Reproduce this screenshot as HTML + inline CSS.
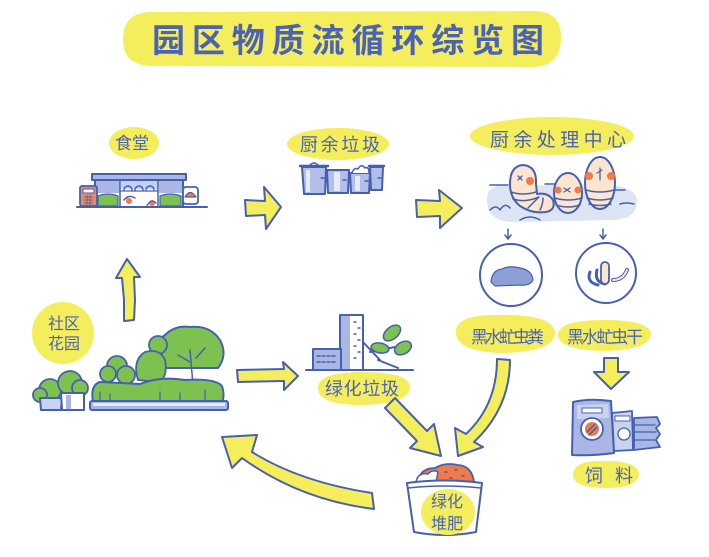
<!DOCTYPE html>
<html>
<head>
<meta charset="utf-8">
<style>
  html,body{margin:0;padding:0;background:#fff;}
  svg{display:block;}
  text{font-family:"Liberation Sans","Noto Sans CJK SC",sans-serif;fill:#4a63b5;}
</style>
</head>
<body>
<svg width="709" height="557" viewBox="0 0 709 557" xmlns="http://www.w3.org/2000/svg">
  <g stroke-linejoin="round" stroke-linecap="round">

  <!-- Title -->
  <path d="M150 12 L535 11 Q562 12 561 38 Q561 66 533 67 L150 66 Q123 65 123 39 Q123 13 150 12 Z" fill="#f5ee5c"/>
  <text x="152" y="52" font-size="33" font-weight="bold" textLength="392" lengthAdjust="spacing">园区物质流循环综览图</text>

  <!-- 食堂 label -->
  <ellipse cx="134" cy="143" rx="25" ry="16" fill="#f5ee5c"/>
  <text x="132" y="149" font-size="17" text-anchor="middle">食堂</text>

  <!-- Canteen -->
  <rect x="92" y="174" width="94" height="6" fill="#aab6e4" stroke="#4660b0" stroke-width="2"/>
  <rect x="95" y="180" width="88" height="27" fill="#fff" stroke="#4660b0" stroke-width="2"/>
  <rect x="96" y="181" width="24" height="12" fill="#aab6e4"/>
  <rect x="159" y="181" width="23" height="12" fill="#aab6e4"/>
  <rect x="121" y="181" width="37" height="8" fill="#c5cff0"/>
  <path d="M98 206 L98 196 Q108 192 118 196 L118 206 Z" fill="#7dc150" stroke="#4660b0" stroke-width="1.2"/>
  <path d="M160 206 L160 196 Q170 192 181 196 L181 206 Z" fill="#7dc150" stroke="#4660b0" stroke-width="1.2"/>
  <line x1="120" y1="180" x2="120" y2="207" stroke="#4660b0" stroke-width="1.5"/>
  <line x1="158" y1="180" x2="158" y2="207" stroke="#4660b0" stroke-width="1.5"/>
  <path d="M124 190 a4 4 0 0 1 8 0 M135 190 a4 4 0 0 1 8 0 M146 190 a4 4 0 0 1 8 0" fill="none" stroke="#4660b0" stroke-width="1.5"/>
  <line x1="121" y1="191" x2="157" y2="191" stroke="#4660b0" stroke-width="1.2"/>
  <path d="M124 200 q5 -6 11 -2" fill="none" stroke="#4660b0" stroke-width="1.5"/>
  <circle cx="129" cy="201" r="3" fill="#f07a4a"/>
  <circle cx="152" cy="203" r="3" fill="#f07a4a"/>
  <path d="M147 206 q4 -8 9 -3" fill="none" stroke="#4660b0" stroke-width="1.3"/>
  <rect x="80" y="186" width="17" height="20" rx="2" fill="#f08a5a" stroke="#4660b0" stroke-width="1.8"/>
  <rect x="83" y="189" width="11" height="4" fill="#fff" stroke="#4660b0" stroke-width="1"/>
  <path d="M84 197h9M84 200h9M84 203h9M87 195v10M90 195v10" stroke="#4660b0" stroke-width="0.8"/>
  <rect x="183" y="187" width="15" height="17" rx="3" fill="#fff" stroke="#4660b0" stroke-width="1.8"/>
  <path d="M185 197 q5 -9 11 0 Z" fill="#f07a4a" stroke="#4660b0" stroke-width="1.2"/>
  <line x1="77" y1="207" x2="207" y2="207" stroke="#4660b0" stroke-width="2"/>

  <!-- Arrow 1 -->
  <path d="M245 200 L265 201 L264 187 L281 207 L266 229 L265 215 L246 216 Z" fill="#f5ee5c" stroke="#4660b0" stroke-width="2"/>

  <!-- 厨余垃圾 -->
  <ellipse cx="338" cy="144" rx="51" ry="16" fill="#f5ee5c"/>
  <text x="300" y="151" font-size="18" textLength="80" lengthAdjust="spacing">厨余垃圾</text>

  <!-- Bins -->
  <path d="M302 167 L326 167 L325 194 L304 194 Z" fill="#b3bfea" stroke="#4660b0" stroke-width="2"/>
  <path d="M300 166 L328 166" stroke="#4660b0" stroke-width="2.5"/>
  <path d="M310 165 q4 -4 8 0" fill="none" stroke="#4660b0" stroke-width="1.5"/>
  <rect x="306" y="170" width="4" height="22" fill="#e6ebfa"/>
  <path d="M327 170 L349 170 L348 193 L328 193 Z" fill="#b3bfea" stroke="#4660b0" stroke-width="2"/>
  <rect x="334" y="172" width="6" height="19" fill="#e6ebfa"/>
  <path d="M350 173 L370 173 L369 193 L351 193 Z" fill="#b3bfea" stroke="#4660b0" stroke-width="2"/>
  <path d="M352 173 q2 -6 6 -4 q3 -6 7 -1 q4 -2 4 5" fill="#fff" stroke="#4660b0" stroke-width="1.5"/>
  <rect x="355" y="176" width="5" height="15" fill="#e6ebfa"/>
  <path d="M370 167 L383 167 L382 190 L371 190 Z" fill="#b3bfea" stroke="#4660b0" stroke-width="2"/>
  <path d="M369 166 L384 166" stroke="#4660b0" stroke-width="2.5"/>
  <path d="M321 178h3M343 180h3M365 181h3M378 178h3" stroke="#4660b0" stroke-width="1.5"/>

  <!-- Arrow 2 -->
  <path d="M416 200 L440 201 L439 190 L462 208 L440 228 L440 216 L417 217 Z" fill="#f5ee5c" stroke="#4660b0" stroke-width="2"/>

  <!-- 厨余处理中心 -->
  <ellipse cx="552" cy="136" rx="82" ry="19" fill="#f5ee5c"/>
  <text x="490" y="146" font-size="19" textLength="136" lengthAdjust="spacing">厨余处理中心</text>

  <!-- Worm area -->
  <path d="M487 196 Q490 183 510 186 L600 184 Q635 185 637 200 Q638 218 615 220 L510 222 Q485 220 487 196 Z" fill="#dde5f5"/>
  <path d="M490 210 q6 -6 10 0 q5 -8 10 -2 M620 204 q6 -2 14 0 M520 220 q10 -6 20 0 M490 185 h18 M545 184 h18 M605 190 h20" fill="none" stroke="#4660b0" stroke-width="1.5"/>
  <path d="M510 184 Q510 166 523 165 Q537 166 536 184 L537 194 Q548 192 553 200 Q556 210 546 212 Q532 214 520 206 Q510 198 510 184 Z" fill="#fde6cf" stroke="#4660b0" stroke-width="2"/>
  <path d="M511 192 q12 4 25 0 M513 199 q12 4 26 -2 M528 208 q6 -6 10 -10 M540 210 q3 -6 3 -12" fill="none" stroke="#4660b0" stroke-width="1.5"/>
  <circle cx="530" cy="181" r="4" fill="#f07a4a"/>
  <path d="M518 176 l4 4 m0 -4 l-4 4" stroke="#4660b0" stroke-width="1.3"/>
  <ellipse cx="568" cy="193" rx="14" ry="20" fill="#fde6cf" stroke="#4660b0" stroke-width="2"/>
  <path d="M555 198 q13 4 27 0 M556 205 q12 4 24 0" fill="none" stroke="#4660b0" stroke-width="1.5"/>
  <circle cx="558" cy="190" r="3.5" fill="#f07a4a"/>
  <circle cx="578" cy="190" r="3.5" fill="#f07a4a"/>
  <path d="M564 188 l6 4 m0 -4 l-6 4" stroke="#4660b0" stroke-width="1.3"/>
  <ellipse cx="600" cy="183" rx="15" ry="26" fill="#fde6cf" stroke="#4660b0" stroke-width="2"/>
  <path d="M586 190 q14 4 28 0 M587 198 q13 4 26 0 M589 204 q11 3 22 0" fill="none" stroke="#4660b0" stroke-width="1.5"/>
  <circle cx="589" cy="176" r="4" fill="#f07a4a"/>
  <circle cx="611" cy="176" r="4" fill="#f07a4a"/>
  <path d="M600 168 v12 m-3 -7 l5 -3" stroke="#4660b0" stroke-width="1.3" fill="none"/>

  <!-- small arrows -->
  <path d="M508 229 v9 M505 235 l3 4 l3 -4" fill="none" stroke="#4660b0" stroke-width="1.5"/>
  <path d="M603 229 v9 M600 235 l3 4 l3 -4" fill="none" stroke="#4660b0" stroke-width="1.5"/>

  <!-- circles -->
  <circle cx="511" cy="275" r="31" fill="#fff" stroke="#4660b0" stroke-width="2"/>
  <path d="M491 282 Q492 270 502 269 Q510 265 520 268 Q532 270 533 280 Q530 286 520 285 L495 286 Z" fill="#8e9fd8" stroke="#4660b0" stroke-width="1.2"/>
  <circle cx="606" cy="273" r="30" fill="#fff" stroke="#4660b0" stroke-width="2"/>
  <path d="M590 272 q-4 10 8 13 M597 270 q-3 12 8 14" fill="none" stroke="#4660b0" stroke-width="3"/>
  <rect x="601" y="262" width="8" height="22" rx="4" fill="#fde6cf" stroke="#4660b0" stroke-width="1.8"/>
  <path d="M613 280 q10 0 14 -10" fill="none" stroke="#4660b0" stroke-width="4"/>
  <path d="M613 280 q10 0 14 -10" fill="none" stroke="#fde6cf" stroke-width="2"/>

  <!-- 黑水虻虫粪 / 虫干 labels -->
  <path d="M456 330 Q458 314 500 315 Q552 314 555 332 Q556 352 502 353 Q454 352 456 330 Z" fill="#f5ee5c"/>
  <text x="471" y="343" font-size="17" textLength="73" lengthAdjust="spacing">黑水虻虫粪</text>
  <path d="M558 334 Q560 320 604 320 Q650 320 651 334 Q650 350 604 351 Q557 350 558 334 Z" fill="#f5ee5c"/>
  <text x="567" y="343" font-size="17" textLength="76" lengthAdjust="spacing">黑水虻虫干</text>

  <!-- Arrow down to feed -->
  <path d="M604 358 L618 358 L618 372 L629 372 L611 389 L594 372 L604 372 Z" fill="#f5ee5c" stroke="#4660b0" stroke-width="2"/>

  <!-- Feed bags -->
  <path d="M634 418 L657 417 L660 424 L656 428 L660 434 L656 440 L660 447 L634 450 Z" fill="#aab6e4" stroke="#4660b0" stroke-width="1.8"/>
  <path d="M635 425 h20 M635 432 h21 M635 440 h20" stroke="#4660b0" stroke-width="1.3"/>
  <path d="M612 413 L632 411 L633 450 L614 451 Z" fill="#c9d3f0" stroke="#4660b0" stroke-width="1.8"/>
  <rect x="615" y="416" width="15" height="5" fill="#fff" stroke="#4660b0" stroke-width="1"/>
  <circle cx="624" cy="434" r="6" fill="#fff" stroke="#4660b0" stroke-width="1.3"/>
  <path d="M573 402 Q590 398 611 401 L614 453 Q592 456 572 455 Z" fill="#aab6e4" stroke="#4660b0" stroke-width="2"/>
  <path d="M577 405 L608 404 L609 418 L577 419 Z" fill="#c9d3f0"/>
  <rect x="582" y="408" width="20" height="5" fill="#fff" stroke="#4660b0" stroke-width="1"/>
  <circle cx="592" cy="429" r="11" fill="#fff" stroke="#4660b0" stroke-width="1.8"/>
  <circle cx="592" cy="429" r="7" fill="#f07a4a"/>
  <path d="M587 432 l8 -8 M589 435 l8 -8" stroke="#4660b0" stroke-width="1.5"/>

  <!-- 饲料 -->
  <path d="M573 474 Q574 460 606 461 Q638 461 639 474 Q638 488 606 488 Q572 488 573 474 Z" fill="#f5ee5c"/>
  <text x="585" y="482" font-size="18" textLength="48" lengthAdjust="spacing">饲料</text>

  <!-- Garden label -->
  <circle cx="63" cy="333" r="31" fill="#f5ee5c"/>
  <text x="64" y="329" font-size="16" text-anchor="middle">社区</text>
  <text x="64" y="349" font-size="16" text-anchor="middle">花园</text>

  <!-- Up arrow -->
  <path d="M127 259 L140 277 L134 277 L135 300 L134 320 L124 321 L124 300 L122 278 L116 278 Z" fill="#f5ee5c" stroke="#4660b0" stroke-width="2"/>

  <!-- Garden -->
  <path d="M157 368 Q150 345 165 335 Q175 325 190 327 Q210 325 220 340 Q228 355 218 368 Z" fill="#7dc150" stroke="#4660b0" stroke-width="2"/>
  <path d="M190 350 L193 385 M178 355 L190 362 M205 348 L196 358" stroke="#4660b0" stroke-width="1.5" fill="none"/>
  <circle cx="158" cy="345" r="9" fill="#7dc150" stroke="#4660b0" stroke-width="1.8"/>
  <path d="M138 380 Q132 360 145 352 Q160 348 165 360 Q168 375 160 382 Z" fill="#7dc150" stroke="#4660b0" stroke-width="1.8"/>
  <circle cx="117" cy="366" r="10" fill="#7dc150" stroke="#4660b0" stroke-width="1.8"/>
  <circle cx="108" cy="374" r="8" fill="#7dc150" stroke="#4660b0" stroke-width="1.8"/>
  <circle cx="126" cy="375" r="9" fill="#7dc150" stroke="#4660b0" stroke-width="1.8"/>
  <path d="M93 402 Q90 385 100 382 L140 384 Q160 376 185 380 Q215 378 222 386 Q225 396 222 402 Z" fill="#7dc150" stroke="#4660b0" stroke-width="2"/>
  <path d="M100 392 v8 M110 394 v6 M160 392 v8 M180 393 v7 M205 390 v10" stroke="#4660b0" stroke-width="1.2"/>
  <rect x="90" y="401" width="138" height="9" rx="2" fill="#aab6e4" stroke="#4660b0" stroke-width="2"/>
  <rect x="93" y="403" width="132" height="3" fill="#e6ebfa"/>
  <!-- pots -->
  <circle cx="50" cy="390" r="11" fill="#7dc150" stroke="#4660b0" stroke-width="1.8"/>
  <circle cx="40" cy="395" r="7" fill="#7dc150" stroke="#4660b0" stroke-width="1.8"/>
  <circle cx="70" cy="383" r="12" fill="#7dc150" stroke="#4660b0" stroke-width="1.8"/>
  <circle cx="80" cy="388" r="8" fill="#7dc150" stroke="#4660b0" stroke-width="1.8"/>
  <path d="M40 398 L62 398 L61 410 L41 410 Z" fill="#c9d3f0" stroke="#4660b0" stroke-width="2"/>
  <path d="M61 393 L84 393 L84 410 L62 410 Z" fill="#fff" stroke="#4660b0" stroke-width="2"/>
  <rect x="66" y="395" width="5" height="14" fill="#aab6e4"/>

  <!-- Arrow garden -> green waste -->
  <path d="M237 370 L284 369 L283 362 L298 376 L284 390 L284 381 L238 382 Z" fill="#f5ee5c" stroke="#4660b0" stroke-width="2"/>

  <!-- Green waste scene -->
  <rect x="340" y="315" width="23" height="55" fill="#fff" stroke="#4660b0" stroke-width="2"/>
  <rect x="341" y="316" width="9" height="53" fill="#aab6e4"/>
  <path d="M354 322h2M358 328h2M354 334h2M358 340h2M354 346h2M358 352h2M354 358h2" stroke="#4660b0" stroke-width="1.5"/>
  <rect x="313" y="349" width="28" height="21" fill="#aab6e4" stroke="#4660b0" stroke-width="2"/>
  <path d="M317 356h3M322 356h3M327 356h3M332 356h3M317 362h3M322 362h3M327 362h3M332 362h3" stroke="#4660b0" stroke-width="1.5"/>
  <path d="M363 342 L380 360 M370 352 L405 345 M378 360 L398 368" stroke="#4660b0" stroke-width="2" fill="none"/>
  <ellipse cx="392" cy="333" rx="10" ry="6" transform="rotate(-40 392 333)" fill="#7dc150" stroke="#4660b0" stroke-width="1.5"/>
  <ellipse cx="403" cy="348" rx="9" ry="6" transform="rotate(-30 403 348)" fill="#7dc150" stroke="#4660b0" stroke-width="1.5"/>
  <ellipse cx="380" cy="348" rx="9" ry="5" transform="rotate(10 380 348)" fill="#7dc150" stroke="#4660b0" stroke-width="1.5"/>
  <line x1="306" y1="370" x2="413" y2="370" stroke="#4660b0" stroke-width="2"/>

  <!-- 绿化垃圾 -->
  <path d="M318 388 Q318 372 362 372 Q410 372 410 387 Q410 404 362 405 Q318 405 318 388 Z" fill="#f5ee5c"/>
  <text x="325" y="395" font-size="18" textLength="74" lengthAdjust="spacing">绿化垃圾</text>

  <!-- arrow green waste -> compost -->
  <path d="M395 398 L427 431 L434 424 L441 456 L410 448 L417 441 L385 408 Z" fill="#f5ee5c" stroke="#4660b0" stroke-width="2"/>
  <!-- curved arrow from 虫粪 -> compost -->
  <path d="M497 359 Q497 405 466 434 L455 428 L458 456 L483 447 L474 442 Q510 408 510 360 Z" fill="#f5ee5c" stroke="#4660b0" stroke-width="2"/>

  <!-- Big return arrow -->
  <path d="M372 493 Q300 482 252 452 L257 435 L222 437 L232 468 L242 458 Q300 500 374 509 Z" fill="#f5ee5c" stroke="#4660b0" stroke-width="2"/>

  <!-- Compost bucket -->
  <path d="M418 482 Q420 468 435 468 Q445 462 458 465 Q472 466 474 482 Z" fill="#f07a4a" stroke="#4660b0" stroke-width="1.8"/>
  <path d="M416 482 Q418 472 428 474 Q432 469 438 472 L436 482 Z" fill="#fff" stroke="#4660b0" stroke-width="1.5"/>
  <path d="M445 472h2M455 470h2M462 476h2M450 478h2" stroke="#4660b0" stroke-width="1.5"/>
  <path d="M407 483 Q444 478 482 483 L476 532 Q445 538 414 532 Z" fill="#fff" stroke="#4660b0" stroke-width="2"/>
  <path d="M408 488 Q444 484 481 488" fill="none" stroke="#4660b0" stroke-width="1.5"/>
  <ellipse cx="448" cy="512" rx="27" ry="23" fill="#f5ee5c"/>
  <text x="447" y="507" font-size="16" text-anchor="middle">绿化</text>
  <text x="447" y="529" font-size="16" text-anchor="middle">堆肥</text>

  </g>
</svg>
</body>
</html>
